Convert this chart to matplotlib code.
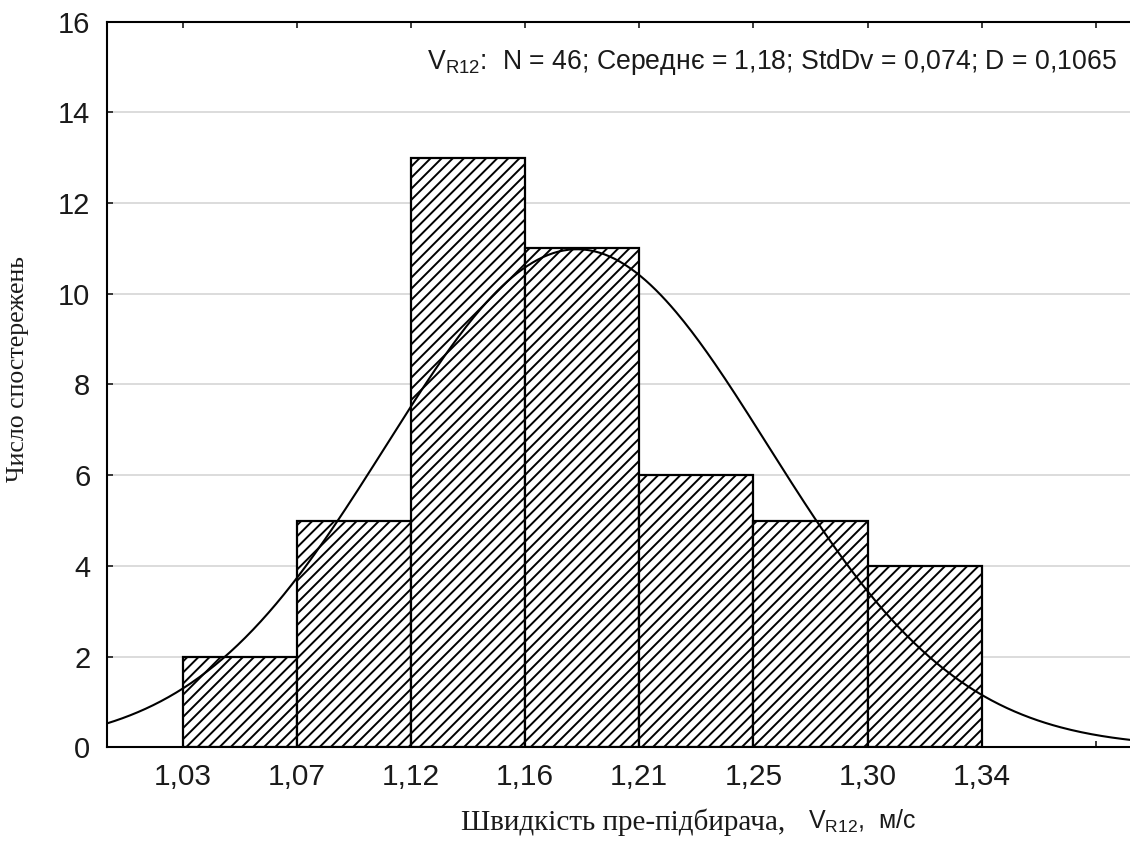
import matplotlib
matplotlib.use("Agg")
import matplotlib.pyplot as plt
import numpy as np

# histogram data
counts = [2, 5, 13, 11, 6, 5, 4]
edge_lo, edge_hi = 1.03, 1.34
tick_labels = ["1,03", "1,07", "1,12", "1,16", "1,21", "1,25", "1,30", "1,34", ""]
y_ticks = [0, 2, 4, 6, 8, 10, 12, 14, 16]

# normal fit shown by the curve
n_obs = 46
mean_v = 1.183
std_v = 0.074
stats_text = r"$\mathrm{V_{R12}}$:  N = 46; Середнє = 1,18; StdDv = 0,074; D = 0,1065"

plt.rcParams['font.family'] = ['Liberation Sans', 'DejaVu Sans']
plt.rcParams['mathtext.fontset'] = 'custom'
plt.rcParams['mathtext.rm'] = 'Liberation Sans'
plt.rcParams['mathtext.it'] = 'Liberation Sans:italic'
plt.rcParams['mathtext.bf'] = 'Liberation Sans:bold'
plt.rcParams['hatch.linewidth'] = 1.4

W, H = 1130, 849
fig = plt.figure(figsize=(W / 100, H / 100), dpi=100)
ax = fig.add_axes([107 / W, 1 - 747.3 / H, 1 - 107 / W, (747.3 - 21.7) / H])

n_bins = len(counts)
bw = (edge_hi - edge_lo) / n_bins
edges = edge_lo + bw * np.arange(n_bins + 1)

ax.bar(edges[:-1], counts, width=bw, align='edge', facecolor='white',
       edgecolor='black', hatch='///', linewidth=1.6, zorder=2)

x_min = edge_lo - bw * (75.7 / 114.1)
x_max = edge_hi + bw * (148.3 / 114.1)
xs = np.linspace(x_min, x_max, 400)
ys = n_obs * bw * np.exp(-0.5 * ((xs - mean_v) / std_v) ** 2) / (std_v * np.sqrt(2 * np.pi))
ax.plot(xs, ys, color='black', lw=1.5, zorder=3)

ax.set_xlim(x_min, x_max)
ax.set_ylim(0, 16)

tick_pos = list(edges) + [edge_hi + bw]
ax.set_xticks(tick_pos)
ax.set_xticklabels(tick_labels)
ax.set_yticks(y_ticks)
ax.tick_params(axis='both', direction='in', length=4, width=1.2, colors='#1a1a1a')
ax.tick_params(axis='x', top=True, labelsize=21.5, pad=11)
ax.tick_params(axis='y', labelsize=21, pad=12)

ax.yaxis.grid(True, color='#d6d6d6', lw=1.2)
ax.set_axisbelow(True)
ax.spines['right'].set_visible(False)
for s in ['left', 'top', 'bottom']:
    ax.spines[s].set_linewidth(1.5)

fig.text(772 / W, 1 - 69 / H, stats_text, ha='center', va='baseline',
         fontsize=19.2, color='#1a1a1a')

fig.text(785 / W, 1 - 830 / H, "Швидкість пре-підбирача,", ha='right', va='baseline',
         family='Liberation Serif', fontsize=21, color='#1a1a1a')
fig.text(808 / W, 1 - 829 / H, r"$\mathrm{V_{R12}}$,  м/с", ha='left', va='baseline',
         fontsize=18, color='#1a1a1a')

fig.text(18 / W, 1 - 369 / H, "Число спостережень", rotation=90, ha='center', va='center',
         family='Liberation Serif', fontsize=18.5, color='#1a1a1a')

fig.savefig("out.png", dpi=100)
